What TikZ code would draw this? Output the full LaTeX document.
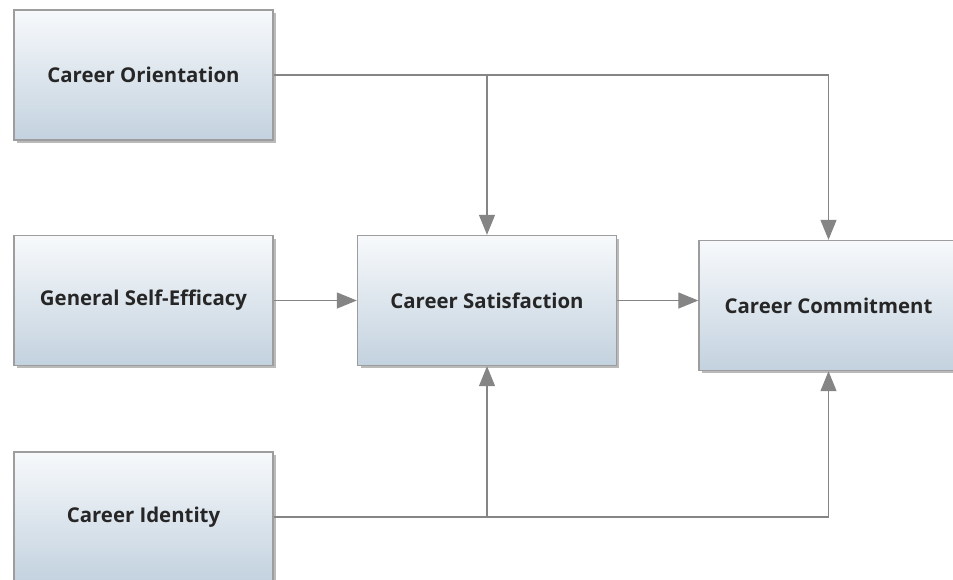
\documentclass[tikz,border=0pt]{standalone}
\usepackage{fontspec}
\setmainfont{Open Sans}
\usepackage{xcolor}
\usepackage{tikz}
\usetikzlibrary{arrows.meta,shadows}

\definecolor{boxtop}{HTML}{F7F9FB}
\definecolor{boxbot}{HTML}{C3D2DF}
\definecolor{lingray}{HTML}{858585}

\tikzset{
  factor/.style={draw=lingray!80, line width=0.8pt, top color=boxtop, bottom color=boxbot,
    minimum width=5.18cm, minimum height=2.6cm, text=black!85,
    font=\bfseries\fontsize{11.6}{13}\selectfont,
    drop shadow={shadow xshift=0.06cm, shadow yshift=-0.06cm, opacity=0.45, fill=black!60}},
  arr/.style={draw=lingray, line width=0.7pt, -{Triangle[length=0.4cm,width=0.32cm]}}
}

\begin{document}
\begin{tikzpicture}[x=0.02cm, y=-0.02cm]
             \useasboundingbox (0,0) rectangle (953,579);
             \begin{scope}
             \clip (0,0) rectangle (953,579);

             \node[factor] (orient) at (143.5, 75) {Career Orientation};
             \node[factor] (efficacy) at (143.5, 300.5) {General Self-Efficacy};
             \node[factor] (identity) at (143.5, 517) {Career Identity};
             \node[factor] (satisf) at (487, 300.5) {Career Satisfaction};
             \node[factor] (commit) at (828.5, 305.5) {Career Commitment};

             \draw[arr] (orient.east) -| (satisf.north);
             \draw[arr] (orient.east) -| (commit.north);
             \draw[arr] (efficacy.east) -- (satisf.west);
             \draw[arr] (satisf.east) -- (satisf.east -| commit.west);
             \draw[arr] (identity.east) -| (satisf.south);
             \draw[arr] (identity.east) -| (commit.south);
             \end{scope}
             \end{tikzpicture}
\end{document}
